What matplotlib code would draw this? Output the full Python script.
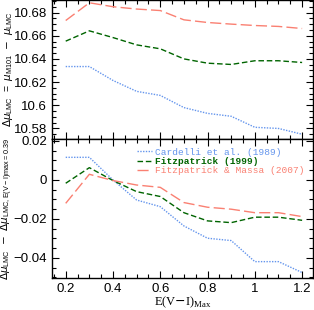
import numpy as np
import matplotlib
matplotlib.use("Agg")
import matplotlib.pyplot as plt
from matplotlib.ticker import MultipleLocator, FuncFormatter

plt.rcParams['font.family'] = ['Liberation Sans', 'DejaVu Sans']
plt.rcParams['mathtext.fontset'] = 'dejavusans'

# E(V-I)_max values
ebv = [0.2, 0.3, 0.4, 0.5, 0.6, 0.7, 0.8, 0.9, 1.0, 1.1, 1.2]

# top panel: distance modulus difference
top_ccm = [10.6334, 10.6334, 10.6214, 10.6120, 10.6085, 10.5980, 10.5930, 10.5905, 10.5810, 10.5800, 10.5750]
top_f99 = [10.6553, 10.6642, 10.6584, 10.6521, 10.6487, 10.6400, 10.6363, 10.6352, 10.6384, 10.6384, 10.6369]
top_fm07 = [10.6731, 10.6884, 10.6850, 10.6830, 10.6817, 10.6737, 10.6714, 10.6700, 10.6688, 10.6680, 10.6662]

# bottom panel: relative to E(V-I)max = 0.39
bot_ccm = [0.0116, 0.0116, 0.0000, -0.0103, -0.0137, -0.0236, -0.0299, -0.0311, -0.0419, -0.0419, -0.0475]
bot_f99 = [-0.0017, 0.0063, -0.0003, -0.0060, -0.0085, -0.0168, -0.0210, -0.0219, -0.0191, -0.0191, -0.0207]
bot_fm07 = [-0.0120, 0.0029, -0.0003, -0.0026, -0.0038, -0.0116, -0.0140, -0.0150, -0.0168, -0.0168, -0.0188]

labels = ["Cardelli et al. (1989)", "Fitzpatrick (1999)", "Fitzpatrick & Massa (2007)"]
colors = ['#6495ED', '#006400', '#FA8072']
styles = [(0, (1, 1)), (0, (4, 2)), (0, (8, 3))]

fig = plt.figure(figsize=(3.14, 3.10), dpi=100)
ax1 = fig.add_axes([0.1656, 0.5516, 0.8312, 0.4484])
ax2 = fig.add_axes([0.1656, 0.1032, 0.8312, 0.4484])

for y, c, ls in zip([top_ccm, top_f99, top_fm07], colors, styles):
    ax1.plot(ebv, y, color=c, linestyle=ls, lw=1.0)
for y, c, ls, lab in zip([bot_ccm, bot_f99, bot_fm07], colors, styles, labels):
    ax2.plot(ebv, y, color=c, linestyle=ls, lw=1.0, label=lab)

for ax in (ax1, ax2):
    ax.set_xlim(0.142, 1.246)
    ax.xaxis.set_major_locator(MultipleLocator(0.2))
    ax.xaxis.set_minor_locator(MultipleLocator(0.05))
    ax.yaxis.set_minor_locator(MultipleLocator(0.005))
    ax.tick_params(which='both', direction='in', top=True, right=True, labelsize=9.5)
    ax.tick_params(which='major', length=5, width=0.8)
    ax.tick_params(which='minor', length=3, width=0.8)
    for s in ax.spines.values():
        s.set_linewidth(1.0)

ax1.set_ylim(10.5709, 10.6908)
ax1.yaxis.set_major_locator(MultipleLocator(0.02))
ax1.tick_params(labelbottom=False)
ax1.yaxis.set_major_formatter(FuncFormatter(lambda v, p: ('%g' % round(v, 3))))

ax2.set_ylim(-0.0503, 0.021)
ax2.yaxis.set_major_locator(MultipleLocator(0.02))
ax2.yaxis.set_major_formatter(FuncFormatter(lambda v, p: ('%g' % round(v, 3)).replace('-', '\u2212')))
ax2.xaxis.set_major_formatter(FuncFormatter(lambda v, p: '%g' % round(v, 2)))

ax1.set_ylabel(r'$\Delta\mu_{\mathregular{LMC}}$  =  $\mu_{\mathregular{M101}}$  $-$  $\mu_{\mathregular{LMC}}$',
               fontsize=7.5)
ax2.set_ylabel(r'$\Delta\mu_{\mathregular{LMC}}$  $-$  $\Delta\mu_{\mathregular{LMC,E(V-I)max=0.39}}$',
               fontsize=7.5)
ax1.yaxis.set_label_coords(-0.14, 0.5)
ax2.yaxis.set_label_coords(-0.14, 0.5)
ax2.set_xlabel(r'E(V$-$I)$_{\mathregular{Max}}$', fontfamily='Liberation Serif', fontsize=9, labelpad=0)

leg = ax2.legend(loc='upper right', frameon=False, prop={'family': 'Liberation Mono', 'size': 6.8},
                 handlelength=1.6, handletextpad=0.3, labelspacing=0.05, borderaxespad=0.5,
                 bbox_to_anchor=(1.0, 1.0))
for t, c in zip(leg.get_texts(), colors):
    t.set_color(c)
leg.get_texts()[1].set_fontweight('bold')

fig.savefig('out.png', dpi=100)
